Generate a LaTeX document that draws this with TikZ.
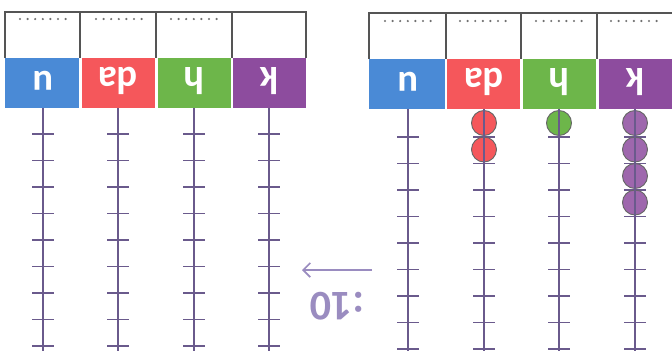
\documentclass[tikz,border=0pt]{standalone}
\usepackage{fontspec}
\usetikzlibrary{arrows.meta}
\setmainfont{Carlito}
\definecolor{cblue}{HTML}{4A8AD6}
\definecolor{cred}{HTML}{F5575B}
\definecolor{cgreen}{HTML}{6DB64A}
\definecolor{cpurple}{HTML}{8D4C9E}
\definecolor{rodc}{HTML}{6A5A8C}
\definecolor{framec}{HTML}{555555}
\definecolor{arrc}{HTML}{9A8CC0}
\definecolor{dotc}{HTML}{707070}
\tikzset{
  rod/.style={draw=rodc, line width=1.6pt},
  tick/.style={draw=rodc, line width=1.1pt},
  frame/.style={draw=framec, line width=1pt},
  lab/.style={text=white, font=\fontsize{33}{33}\selectfont\bfseries, rotate=180, inner sep=0pt},
  bead/.style={draw=black!60, line width=0.8pt},
}
\newcommand{\dotrow}[2]{\foreach \k in {0,...,6}{\fill[dotc] ({#1+\k*7.6},#2) circle (1.2);}}
\begin{document}
\begin{tikzpicture}[x=0.03cm,y=-0.03cm]
\useasboundingbox (0,0) rectangle (672,351);
\fill[white] (0,0) rectangle (672,351);
% ---------- left abacus ----------
\fill[cblue] (5,58) rectangle (79,108);
\fill[cred] (81.5,58) rectangle (155,108);
\fill[cgreen] (157.5,58) rectangle (230.5,108);
\fill[cpurple] (233,58) rectangle (306,108);
\draw[frame] (5,58) -- (5,12) -- (306,12) -- (306,58);
\foreach \x in {80,156,232}{\draw[frame] (\x,12) -- (\x,58);}
\dotrow{20}{19}
\dotrow{96}{19}
\dotrow{171}{19}
\node[lab] (lu) at (43,81) {u};
\node[lab] (lda) at (118,81) {da};
\node[lab] (lh) at (194,81) {h};
\node[lab] (lk) at (269,81) {k};
\foreach \x in {43,118,194,269}{
  \draw[rod] (\x,108) -- (\x,351);
  \foreach \j in {0,...,8}{\draw[tick] (\x-11,134+26.5*\j) -- (\x+11,134+26.5*\j);}
}
% ---------- right abacus ----------
\fill[cblue] (369,59) rectangle (444.5,109);
\fill[cred] (447,59) rectangle (520,109);
\fill[cgreen] (522.5,59) rectangle (596,109);
\fill[cpurple] (598.5,59) rectangle (672,109);
\draw[frame] (369,59) -- (369,13) -- (672,13);
\foreach \x in {446,521,597}{\draw[frame] (\x,13) -- (\x,59);}
\dotrow{385}{21}
\dotrow{460}{21}
\dotrow{536}{21}
\dotrow{611}{21}
\node[lab] (ru) at (408,82) {u};
\node[lab] (rda) at (484,82) {da};
\node[lab] (rh) at (559,82) {h};
\node[lab] (rk) at (635,82) {k};
\foreach \x in {408,484,559,635}{
  \foreach \j in {0,...,8}{\draw[tick] (\x-11,137+26.5*\j) -- (\x+11,137+26.5*\j);}
}
% beads
\foreach \y in {123,149.5}{\fill[cred,bead] (484,\y) circle (12.5);}
\fill[cgreen,bead] (559,123) circle (12.5);
\foreach \y in {123,149.5,176,202.5}{\fill[cpurple!85,bead] (635,\y) circle (12.5);}
\foreach \x in {408,484,559,635}{\draw[rod] (\x,109) -- (\x,351);}
% ---------- arrow and label ----------
\coordinate (as) at (372,270);
\coordinate (ae) at (302,270);
\draw[arrc, line width=1.5pt, -{Straight Barb[length=6pt,width=12pt]}] (as) -- (ae);
\node[text=arrc, font=\fontsize{36}{36}\selectfont\bfseries, rotate=180, inner sep=0pt] (ten) at (337,306) {:10};
\end{tikzpicture}
\end{document}
